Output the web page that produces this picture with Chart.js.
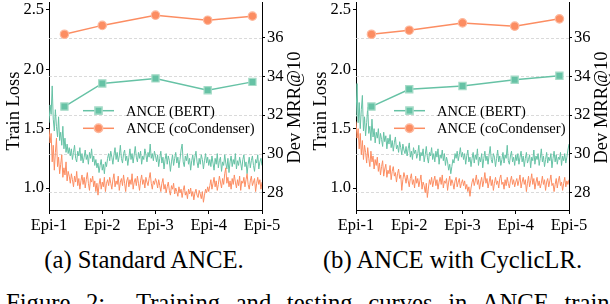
<!DOCTYPE html>
<html>
<head>
<meta charset="utf-8">
<script src="https://cdn.jsdelivr.net/npm/chart.js@4.4.1/dist/chart.umd.min.js"></script>
<style>
  body { margin: 0; width: 610px; height: 304px; overflow: hidden; position: relative; background: #fff; }
  canvas { position: absolute; top: -10px; }
  .cap { position: absolute; font-family: "Liberation Serif", serif; font-size: 24.7px; line-height: 24.7px; white-space: nowrap; color: #000; }
</style>
</head>
<body>
<canvas id="chartA" width="306" height="250" style="left:0"></canvas>
<canvas id="chartB" width="306" height="250" style="left:307px"></canvas>
<div class="cap" style="left:0;width:288px;text-align:center;top:248px">(a) Standard ANCE.</div>
<div class="cap" style="left:306px;width:293px;text-align:center;top:248px">(b) ANCE with CyclicLR.</div>
<div class="cap" style="left:6px;top:291px;word-spacing:9.4px">Figure 2:&nbsp; Training and testing curves in ANCE train-</div>
<script>
const epochLabels = ["Epi-1", "Epi-2", "Epi-3", "Epi-4", "Epi-5"];
const lossTicks = [1.0, 1.5, 2.0, 2.5];
const mrrTicks = [28, 30, 32, 34, 36];
const seriesNames = ["ANCE (BERT)", "ANCE (coCondenser)"];

// dev MRR@10 at each checkpoint (x in epochs from Epi-1)
const mrrSteps = [0.29, 1.0, 2.0, 2.98, 3.82];
const mrrBertA = [32.44, 33.64, 33.9, 33.29, 33.72];
const mrrCocoA = [36.19, 36.65, 37.18, 36.92, 37.13];
const mrrBertB = [32.44, 33.34, 33.51, 33.83, 34.04];
const mrrCocoB = [36.19, 36.4, 36.78, 36.61, 36.99];

// train loss, samples evenly spread from Epi-1 to Epi-5
const lossBertA = [1.55, 1.70, 1.62, 1.86, 1.58, 1.48, 1.66, 1.52, 1.43, 1.60, 1.40, 1.47, 1.36, 1.52, 1.33, 1.42, 1.30, 1.37, 1.29, 1.34,
  1.27, 1.33, 1.24, 1.30, 1.36, 1.25, 1.22, 1.31, 1.27, 1.34, 1.23, 1.29, 1.21, 1.26, 1.32, 1.24, 1.28, 1.20, 1.30, 1.25, 1.33, 1.22, 1.27, 1.19, 1.24, 1.17,
  1.21, 1.13, 1.19, 1.24, 1.15, 1.20, 1.12, 1.22, 1.18, 1.25,
  1.29, 1.23, 1.31, 1.26, 1.20, 1.28, 1.34, 1.24, 1.30, 1.22, 1.27, 1.36, 1.25, 1.21, 1.29, 1.32, 1.23, 1.27, 1.19, 1.26, 1.33, 1.24, 1.29, 1.21, 1.28, 1.35, 1.26, 1.22, 1.30, 1.25, 1.31, 1.20, 1.27, 1.24, 1.33, 1.28, 1.22, 1.30, 1.26, 1.37, 1.25, 1.29, 1.23, 1.31, 1.27,
  1.22, 1.28, 1.18, 1.25, 1.31, 1.21, 1.26, 1.16, 1.24, 1.29, 1.20, 1.27, 1.23, 1.14, 1.22, 1.28, 1.19, 1.25, 1.30, 1.21, 1.26, 1.17, 1.24, 1.32, 1.37, 1.22, 1.18, 1.27, 1.23, 1.29, 1.20, 1.25, 1.15, 1.23, 1.28, 1.19, 1.26, 1.31, 1.22, 1.17, 1.25, 1.20, 1.28, 1.24, 1.16, 1.23, 1.29, 1.21, 1.26, 1.19,
  1.24, 1.18, 1.27, 1.21, 1.15, 1.25, 1.20, 1.29, 1.17, 1.23, 1.26, 1.14, 1.22, 1.19, 1.28, 1.21, 1.16, 1.25, 1.13, 1.22, 1.27, 1.18, 1.24, 1.20, 1.29, 1.16, 1.23, 1.19, 1.26, 1.21, 1.15, 1.24, 1.28, 1.18, 1.22, 1.12, 1.20, 1.26, 1.17, 1.23, 1.27, 1.19, 1.14, 1.24, 1.21, 1.28, 1.16, 1.22, 1.25, 1.19];
const lossCocoA = [1.50, 1.38, 1.46, 1.22, 1.36, 1.15, 1.30, 1.42, 1.18, 1.26, 1.12, 1.20, 1.28, 1.09, 1.17, 1.11, 1.22, 1.06, 1.14, 1.10,
  1.04, 1.12, 1.07, 1.01, 1.10, 1.05, 1.14, 1.02, 1.08, 0.99, 1.06, 1.11, 1.03, 1.09, 1.00, 1.07, 1.13, 1.04, 0.98, 1.08, 1.05, 1.10, 1.01, 1.06, 0.97, 1.04,
  0.94, 1.03, 1.08, 0.99, 1.05, 1.01, 1.09, 0.97, 1.04, 1.07,
  1.02, 1.09, 1.04, 0.99, 1.07, 1.12, 1.01, 1.06, 1.03, 1.10, 0.98, 1.05, 1.08, 1.02, 1.11, 1.04, 0.97, 1.06, 1.09, 1.01, 1.07, 1.03, 1.12, 0.99, 1.05, 1.08, 1.02, 1.10, 1.04, 0.98, 1.06, 1.11, 1.03, 1.07, 1.00, 1.09, 1.05, 1.02, 1.08, 1.13, 1.04, 0.99, 1.06, 1.03, 1.08,
  1.05, 1.00, 1.07, 1.02, 0.97, 1.04, 1.08, 0.99, 1.03, 0.96, 1.01, 1.05, 0.98, 0.94, 1.02, 0.99, 1.04, 0.95, 1.00, 0.97, 0.93, 1.01, 0.96, 0.99, 0.92, 0.98, 1.02, 0.94, 0.97, 0.91, 0.99, 0.95, 1.00, 0.93, 0.97, 0.90, 0.96, 0.99, 0.94, 0.92, 0.98, 0.95, 0.91, 0.97, 0.88, 0.94, 0.99, 0.96, 1.01, 0.97,
  1.02, 1.07, 0.99, 1.04, 1.09, 1.01, 1.06, 0.98, 1.03, 1.10, 1.05, 1.00, 1.08, 1.03, 1.12, 1.17, 1.04, 1.09, 1.01, 1.06, 0.99, 1.08, 1.03, 1.11, 1.05, 1.00, 1.07, 1.02, 1.10, 0.98, 1.06, 1.04, 1.09, 1.01, 1.07, 1.12, 1.03, 0.99, 1.06, 1.10, 1.02, 1.05, 1.08, 0.97, 1.04, 1.09, 1.03, 1.07, 0.99, 1.05];
const lossBertB = [1.60, 1.88, 1.55, 1.72, 1.50, 1.66, 1.78, 1.48, 1.60, 1.44, 1.55, 1.68, 1.46, 1.52, 1.40, 1.58, 1.43, 1.50, 1.38, 1.47,
  1.42, 1.50, 1.37, 1.46, 1.41, 1.35, 1.47, 1.39, 1.44, 1.33, 1.42, 1.37, 1.45, 1.34, 1.40, 1.31, 1.38, 1.43, 1.33, 1.36, 1.30, 1.39, 1.34, 1.28, 1.37, 1.32,
  1.29, 1.35, 1.27, 1.33, 1.38, 1.26, 1.31, 1.24, 1.34, 1.29,
  1.32, 1.25, 1.29, 1.36, 1.23, 1.30, 1.27, 1.33, 1.22, 1.28, 1.35, 1.26, 1.21, 1.30, 1.27, 1.34, 1.24, 1.29, 1.22, 1.31, 1.26, 1.33, 1.20, 1.28, 1.25, 1.32, 1.23, 1.29, 1.19, 1.26, 1.22, 1.15, 1.20, 1.12, 1.18, 1.24, 1.21, 1.29, 1.25, 1.31, 1.23, 1.28, 1.34, 1.26, 1.30,
  1.24, 1.29, 1.20, 1.27, 1.32, 1.22, 1.26, 1.18, 1.25, 1.30, 1.21, 1.28, 1.24, 1.33, 1.19, 1.26, 1.22, 1.29, 1.17, 1.25, 1.31, 1.23, 1.27, 1.20, 1.28, 1.35, 1.24, 1.21, 1.29, 1.26, 1.18, 1.25, 1.32, 1.22, 1.27, 1.19, 1.24, 1.30, 1.21, 1.28, 1.25, 1.36, 1.23, 1.20, 1.27, 1.31, 1.22, 1.26, 1.19, 1.28,
  1.23, 1.29, 1.20, 1.26, 1.31, 1.22, 1.27, 1.18, 1.25, 1.30, 1.21, 1.24, 1.28, 1.17, 1.26, 1.23, 1.32, 1.20, 1.27, 1.24, 1.29, 1.19, 1.25, 1.33, 1.22, 1.27, 1.18, 1.24, 1.30, 1.21, 1.26, 1.23, 1.29, 1.17, 1.25, 1.31, 1.22, 1.28, 1.20, 1.26, 1.24, 1.30, 1.19, 1.27, 1.23, 1.29, 1.21, 1.26, 1.32, 1.37];
const lossCocoB = [1.56, 1.42, 1.50, 1.33, 1.46, 1.28, 1.40, 1.24, 1.36, 1.30, 1.21, 1.34, 1.25, 1.18, 1.31, 1.22, 1.27, 1.16, 1.24, 1.19,
  1.26, 1.14, 1.21, 1.11, 1.18, 1.23, 1.10, 1.16, 1.20, 1.09, 1.15, 1.12, 1.19, 1.07, 1.14, 1.18, 1.10, 1.13, 1.05, 1.12, 1.16, 1.08, 1.11, 0.98, 1.07, 1.13,
  1.09, 1.04, 1.11, 1.06, 1.01, 1.08, 1.12, 1.03, 1.07, 1.00,
  1.10, 1.04, 1.08, 1.01, 1.06, 1.11, 0.99, 1.05, 1.02, 0.96, 1.04, 0.92, 1.00, 1.07, 1.03, 1.09, 1.01, 1.06, 1.10, 1.02, 1.07, 0.99, 1.05, 1.09, 1.03, 1.11, 1.00, 1.06, 1.04, 1.08, 0.98, 1.05, 1.10, 1.02, 1.07, 1.04, 0.99, 1.06, 1.09, 1.01, 1.05, 1.08, 1.00, 1.04, 1.07,
  1.02, 1.06, 0.99, 1.03, 0.97, 1.01, 0.93, 1.00, 1.05, 1.08, 1.02, 1.06, 1.11, 1.03, 1.07, 0.99, 1.05, 1.09, 1.01, 1.06, 1.13, 1.04, 1.08, 1.00, 1.05, 1.10, 1.02, 1.07, 0.98, 1.04, 1.09, 1.03, 1.06, 1.00, 1.08, 1.11, 1.03, 1.05, 0.99, 1.07, 1.02, 1.09, 1.04, 1.00, 1.06, 1.10, 1.03, 1.07, 1.01, 1.05,
  1.08, 1.02, 1.06, 1.11, 1.00, 1.05, 1.09, 1.03, 1.07, 0.97, 1.04, 1.10, 1.01, 1.06, 1.12, 1.03, 1.08, 0.99, 1.05, 1.09, 1.02, 1.06, 1.00, 1.04, 1.10, 1.03, 1.07, 0.98, 1.05, 1.08, 1.01, 1.06, 1.11, 1.02, 1.04, 0.97, 1.03, 1.08, 1.00, 1.06, 1.10, 1.02, 1.05, 0.98, 1.04, 1.09, 1.01, 1.06, 1.03, 1.07];

const green = "#66c2a5";
const orange = "#fc8d62";
const serif = "Liberation Serif";

Chart.defaults.font.family = serif;
Chart.defaults.color = "#000";

// dashed grid, rotated axis titles and the in-plot legend
const overlay = {
  id: "overlay",
  beforeDatasetsDraw(chart) {
    const { ctx, chartArea, scales } = chart;
    ctx.save();
    ctx.strokeStyle = "#d0d0d0";
    ctx.lineWidth = 0.8;
    ctx.setLineDash([3, 2]);
    mrrTicks.forEach((v) => {
      const y = Math.round(scales.y1.getPixelForValue(v)) + 0.5;
      ctx.beginPath();
      ctx.moveTo(chartArea.left, y);
      ctx.lineTo(chartArea.right, y);
      ctx.stroke();
    });
    ctx.restore();
  },
  afterDraw(chart, args, opts) {
    const { ctx, chartArea } = chart;
    ctx.save();
    ctx.fillStyle = "#000";
    ctx.font = '18.5px "' + serif + '"';
    ctx.textAlign = "center";
    ctx.textBaseline = "middle";
    [["Train Loss", 14, 121], ["Dev MRR@10", 295, 117.5]].forEach(([t, x, y]) => {
      ctx.save();
      ctx.translate(x, y);
      ctx.rotate(-Math.PI / 2);
      ctx.fillText(t, 0, 0);
      ctx.restore();
    });

    const colors = [green, orange];
    const edges = ["#a6dcc8", "#fdb89d"];
    ctx.font = '14.5px "' + serif + '"';
    ctx.textAlign = "left";
    seriesNames.forEach((name, i) => {
      const x = chartArea.left + opts.legendX;
      const y = chartArea.top + 108.7 + i * 17.6;
      ctx.strokeStyle = colors[i];
      ctx.lineWidth = 1.5;
      ctx.beginPath();
      ctx.moveTo(x, y);
      ctx.lineTo(x + 31, y);
      ctx.stroke();
      ctx.fillStyle = colors[i];
      ctx.strokeStyle = edges[i];
      ctx.beginPath();
      if (i === 0) ctx.rect(x + 15.5 - 3.6, y - 3.6, 7.2, 7.2);
      else ctx.arc(x + 15.5, y, 4.2, 0, Math.PI * 2);
      ctx.fill();
      ctx.stroke();
      ctx.fillStyle = "#000";
      ctx.fillText(name, x + 43, y + 1);
    });
    ctx.restore();
  },
};

function makeChart(id, lossBert, lossCoco, mrrBert, mrrCoco, legendX) {
  const lossPts = (arr) => arr.map((v, i) => ({ x: (i * 4) / (arr.length - 1), y: v }));
  const mrrPts = (arr) => arr.map((v, i) => ({ x: mrrSteps[i], y: v }));
  const tickFont = { family: serif, size: 16.5 };
  return new Chart(document.getElementById(id), {
    type: "line",
    data: {
      datasets: [
        {
          label: seriesNames[1], data: mrrPts(mrrCoco), yAxisID: "y1",
          borderColor: orange, backgroundColor: orange, borderWidth: 1.5,
          pointStyle: "circle", pointRadius: 4.2, pointBorderColor: "#fdb89d", pointBorderWidth: 1.2,
        },
        {
          label: seriesNames[0], data: mrrPts(mrrBert), yAxisID: "y1",
          borderColor: green, backgroundColor: green, borderWidth: 1.5,
          pointStyle: "rect", pointRadius: 5.1, pointBorderColor: "#a6dcc8", pointBorderWidth: 1.2,
        },
        {
          data: lossPts(lossCoco), yAxisID: "y",
          borderColor: orange, borderWidth: 1, pointRadius: 0,
        },
        {
          data: lossPts(lossBert), yAxisID: "y",
          borderColor: green, borderWidth: 1, pointRadius: 0,
        },
      ],
    },
    options: {
      responsive: false,
      animation: false,
      devicePixelRatio: 1,
      layout: { padding: { top: 12 } },
      plugins: { legend: { display: false }, tooltip: { enabled: false }, overlay: { legendX } },
      scales: {
        x: {
          type: "linear", min: 0, max: 4,
          afterBuildTicks: (s) => { s.ticks = epochLabels.map((l, i) => ({ value: i })); },
          afterFit: (s) => { s.height = 30; },
          ticks: { callback: (v) => epochLabels[v], font: tickFont, padding: 2, maxRotation: 0 },
          grid: { drawOnChartArea: false, tickLength: 4, color: "#000" },
          border: { color: "#000", width: 1 },
        },
        y: {
          position: "left", min: 0.8147, max: 2.567,
          afterBuildTicks: (s) => { s.ticks = lossTicks.map((v) => ({ value: v })); },
          afterFit: (s) => { s.width = 49; },
          ticks: { callback: (v) => v.toFixed(1), font: tickFont, padding: 2 },
          grid: { drawOnChartArea: false, tickLength: 3, color: "#000" },
          border: { color: "#000", width: 1 },
        },
        y1: {
          position: "right", min: 27.076, max: 37.863,
          afterBuildTicks: (s) => { s.ticks = mrrTicks.map((v) => ({ value: v })); },
          afterFit: (s) => { s.width = 44; },
          ticks: { callback: (v) => String(v), font: tickFont, padding: 2 },
          grid: { drawOnChartArea: false, tickLength: 3, color: "#000" },
          border: { color: "#000", width: 1 },
        },
      },
    },
    plugins: [overlay],
  });
}

makeChart("chartA", lossBertA, lossCocoA, mrrBertA, mrrCocoA, 34);
makeChart("chartB", lossBertB, lossCocoB, mrrBertB, mrrCocoB, 38);
</script>
</body>
</html>
